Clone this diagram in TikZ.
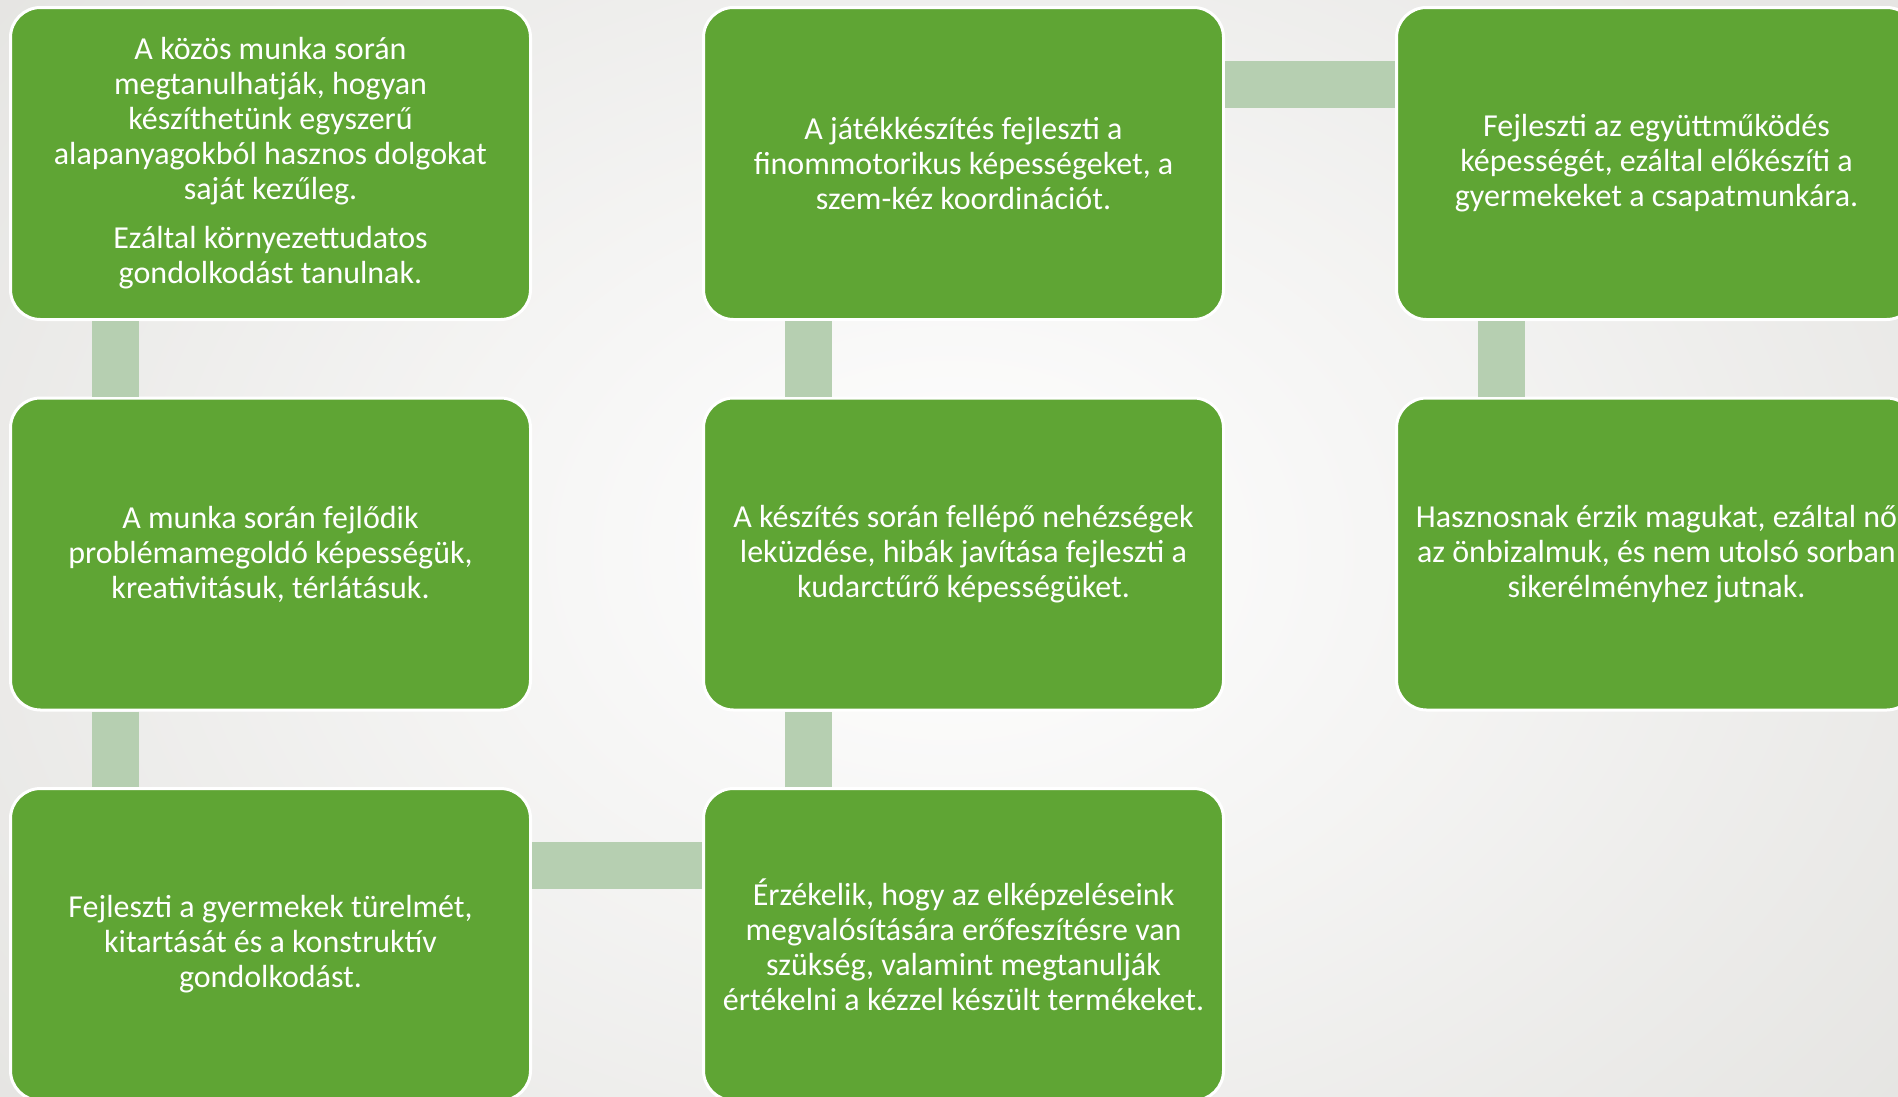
\documentclass[tikz,border=0pt]{standalone}
\usepackage{fontspec}
\setmainfont{Carlito}
\definecolor{boxgreen}{RGB}{95,165,52}
\definecolor{barsage}{RGB}{182,207,177}
\definecolor{bgedge}{RGB}{214,213,209}
\tikzset{
  card/.style={rectangle, rounded corners=30pt, fill=boxgreen, draw=white,
    line width=3pt, minimum width=520pt, minimum height=312pt, text=white,
    align=center, font=\fontsize{32}{35}\selectfont, inner sep=0pt},
  linkbar/.style={draw=barsage, line width=47pt},
}
\begin{document}
\begin{tikzpicture}[x=1pt,y=-1pt]
\useasboundingbox (0,0) rectangle (1898,1096);
\begin{scope}
\clip (0,0) rectangle (1898,1096);
\shade[inner color=white, outer color=bgedge] (-1000,-900) rectangle (2900,2000);

\node[card] (a1) at (270.5,163.5) {A közös munka során\\megtanulhatják, hogyan\\készíthetünk egyszerű\\alapanyagokból hasznos dolgokat\\saját kezűleg.\\[14pt]Ezáltal környezettudatos\\gondolkodást tanulnak.};
\node[card] (a2) at (270.5,554) {A munka során fejlődik\\problémamegoldó képességük,\\kreativitásuk, térlátásuk.};
\node[card] (a3) at (270.5,944.5) {Fejleszti a gyermekek türelmét,\\kitartását és a konstruktív\\gondolkodást.};
\node[card] (b1) at (963.5,163.5) {A játékkészítés fejleszti a\\finommotorikus képességeket, a\\szem-kéz koordinációt.};
\node[card] (b2) at (963.5,554) {A készítés során fellépő nehézségek\\leküzdése, hibák javítása fejleszti a\\kudarctűrő képességüket.};
\node[card] (b3) at (963.5,944.5) {Érzékelik, hogy az elképzeléseink\\megvalósítására erőfeszítésre van\\szükség, valamint megtanulják\\értékelni a kézzel készült termékeket.};
\node[card] (c1) at (1656.5,163.5) {Fejleszti az együttműködés\\képességét, ezáltal előkészíti a\\gyermekeket a csapatmunkára.};
\node[card] (c2) at (1656.5,554) {Hasznosnak érzik magukat, ezáltal nő\\az önbizalmuk, és nem utolsó sorban\\sikerélményhez jutnak.};

\draw[linkbar] ([xshift=106.5pt]a1.south west) -- ([xshift=106.5pt]a2.north west);
\draw[linkbar] ([xshift=106.5pt]a2.south west) -- ([xshift=106.5pt]a3.north west);
\draw[linkbar] ([yshift=-78pt]a3.north east) -- ([yshift=-78pt]b3.north west);
\draw[linkbar] ([xshift=106.5pt]b3.north west) -- ([xshift=106.5pt]b2.south west);
\draw[linkbar] ([xshift=106.5pt]b2.north west) -- ([xshift=106.5pt]b1.south west);
\draw[linkbar] ([yshift=-78pt]b1.north east) -- ([yshift=-78pt]c1.north west);
\draw[linkbar] ([xshift=106.5pt]c1.south west) -- ([xshift=106.5pt]c2.north west);
\end{scope}
\end{tikzpicture}
\end{document}
